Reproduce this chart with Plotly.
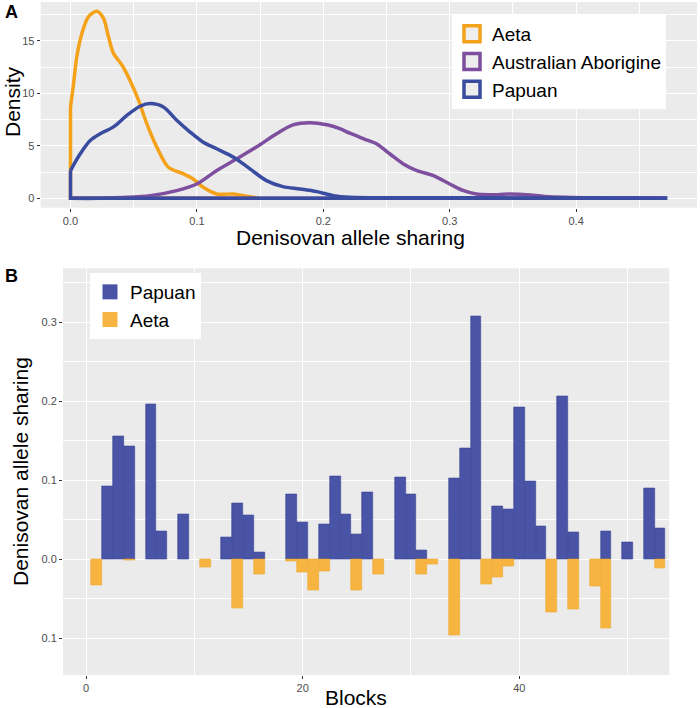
import plotly.graph_objects as go

# ---------------- Panel A data (density curves) ----------------
# each curve: value at x=0 boundary first, then along the curve to its right end
aeta_x = [0, 0.0024, 0.005, 0.009, 0.0143, 0.0209, 0.026, 0.030, 0.034, 0.0406, 0.047, 0.0538,
          0.0604, 0.0683, 0.0775, 0.0894, 0.097, 0.105, 0.1157, 0.129, 0.137, 0.1447, 0.15]
aeta_y = [8.7, 10.9, 13.5, 15.7, 17.3, 17.8, 17.15, 15.4, 13.8, 12.7, 11.25, 9.34,
          7.1, 4.88, 2.96, 2.33, 1.85, 1.05, 0.42, 0.42, 0.26, 0.1, 0.0]

aus_x = [0.0, 0.023, 0.04, 0.063, 0.084, 0.0999, 0.1157, 0.1315, 0.147, 0.163, 0.176, 0.1895,
         0.2027, 0.213, 0.221, 0.232, 0.242, 0.253, 0.263, 0.274, 0.287, 0.300, 0.311,
         0.321, 0.332, 0.348, 0.361, 0.375, 0.39, 0.406, 0.459, 0.472]
aus_y = [0.0, 0.0, 0.08, 0.26, 0.74, 1.37, 2.65, 3.76, 4.88, 6.15, 7.0, 7.2,
         7.0, 6.63, 6.2, 5.67, 5.2, 4.2, 3.3, 2.64, 2.17, 1.37, 0.73,
         0.41, 0.35, 0.41, 0.35, 0.19, 0.1, 0.06, 0.03, 0.0]

pap_x = [0, 0.0077, 0.0156, 0.0235, 0.034, 0.0446, 0.055, 0.063, 0.0735, 0.084, 0.0946, 0.105,
         0.1157, 0.129, 0.142, 0.155, 0.168, 0.1816, 0.195, 0.208, 0.221, 0.26, 0.33, 0.40, 0.472]
pap_y = [2.65, 4.24, 5.5, 6.15, 6.8, 7.9, 8.77, 9.02, 8.7, 7.43, 6.31, 5.35,
         4.72, 3.92, 2.81, 1.69, 1.12, 0.9, 0.64, 0.26, 0.1, 0.06, 0.05, 0.03, 0.0]

density_names = ["Aeta", "Australian Aborigine", "Papuan"]
density_colors = ["#F5A21B", "#7E4F9F", "#3A4CA0"]

# ---------------- Panel B data (bars per block) ----------------
blocks = list(range(1, 54))
papuan_vals = [0, 0.092, 0.155, 0.143, 0, 0.196, 0.035, 0, 0.056, 0,
               0, 0, 0.028, 0.070, 0.055, 0.009, 0, 0, 0.082, 0.047,
               0, 0.044, 0.105, 0.057, 0.031, 0.084, 0, 0, 0.103, 0.082,
               0.011, 0, 0, 0.102, 0.140, 0.307, 0, 0.067, 0.063, 0.192,
               0.098, 0.041, 0, 0.206, 0.034, 0, 0, 0.035, 0, 0.021,
               0, 0.090, 0.039]
aeta_vals = [0.033, 0, 0, 0.001, 0, 0, 0, 0, 0, 0,
             0.011, 0, 0, 0.062, 0, 0.019, 0, 0, 0.003, 0.017,
             0.039, 0.016, 0, 0, 0.040, 0, 0.019, 0, 0, 0,
             0.019, 0.007, 0, 0.096, 0, 0, 0.032, 0.023, 0.009, 0,
             0, 0, 0.067, 0, 0.064, 0, 0.034, 0.088, 0, 0,
             0, 0, 0.012]

b_yticks = [-0.1, 0.0, 0.1, 0.2, 0.3]
b_yticktext = ["0.1", "0.0", "0.1", "0.2", "0.3"]
b_xticks = [0, 20, 40]

FONT = "Liberation Sans, Arial, sans-serif"
PANEL_BG = "#EBEBEB"
TICKC = "#4D4D4D"
LW = 3.5

fig = go.Figure()

# Panel A curves: boundary segments (straight) + smooth curve
for xs, ys, name, col in zip([aeta_x, aus_x, pap_x], [aeta_y, aus_y, pap_y], density_names, density_colors):
    fig.add_trace(go.Scatter(x=[xs[-1], xs[0], xs[0]], y=[0, 0, ys[0]], mode="lines", showlegend=False,
                             line=dict(color=col, width=LW), xaxis="x", yaxis="y", hoverinfo="skip"))
    fig.add_trace(go.Scatter(x=xs, y=ys, mode="lines", name=name, showlegend=False,
                             line=dict(color=col, width=LW, shape="spline", smoothing=0.9),
                             xaxis="x", yaxis="y", hoverinfo="skip"))
# Panel A legend entries (outlined boxes)
for name, col in zip(density_names, density_colors):
    fig.add_trace(go.Scatter(x=[None], y=[None], name=name, legend="legend", mode="markers",
                             marker=dict(symbol="square", size=16, color="#EEEEEE",
                                         line=dict(color=col, width=3.5)),
                             xaxis="x", yaxis="y"))

# Panel B bars
pap_plot = [v if v else None for v in papuan_vals]
aeta_plot = [-v if v else None for v in aeta_vals]
fig.add_trace(go.Bar(x=blocks, y=pap_plot, name="Papuan", showlegend=False, width=1,
                     marker=dict(color="#4A54A6", line=dict(color="#3B4594", width=0.6)),
                     xaxis="x2", yaxis="y2"))
fig.add_trace(go.Bar(x=blocks, y=aeta_plot, name="Aeta", showlegend=False, width=1,
                     marker=dict(color="#F8B440", line=dict(color="#EDA935", width=0.6)),
                     xaxis="x2", yaxis="y2"))
for name, col in [("Papuan", "#4A54A6"), ("Aeta", "#F8B440")]:
    fig.add_trace(go.Scatter(x=[None], y=[None], name=name, legend="legend2", mode="markers",
                             marker=dict(symbol="square", size=15, color=col, line=dict(width=0)),
                             xaxis="x2", yaxis="y2"))

grid = dict(showgrid=True, gridcolor="white", gridwidth=1.3, zeroline=False,
            ticks="outside", ticklen=3, tickcolor="#333333", tickwidth=1,
            tickfont=dict(family=FONT, size=11, color=TICKC), showline=False)

fig.update_layout(
    width=700, height=708, margin=dict(l=0, r=0, t=0, b=0),
    paper_bgcolor="white", plot_bgcolor=PANEL_BG, barmode="overlay", bargap=0,
    font=dict(family=FONT, color="black"),
    xaxis=dict(domain=[0.0581, 0.9957], range=[-0.0236, 0.4956], tickmode="linear", tick0=0, dtick=0.1,
               tickformat=".1f", anchor="y",
               minor=dict(dtick=0.05, tick0=0, showgrid=True, gridcolor="white", gridwidth=0.6, ticks=""),
               **grid),
    yaxis=dict(domain=[0.7066, 0.9972], range=[-0.89, 18.69], tickmode="linear", tick0=0, dtick=5,
               anchor="x",
               minor=dict(dtick=2.5, tick0=0, showgrid=True, gridcolor="white", gridwidth=0.6, ticks=""),
               **grid),
    xaxis2=dict(domain=[0.09, 0.9561], range=[-2.13, 53.85], tickvals=b_xticks, anchor="y2",
                minor=dict(tickvals=[10, 30, 50], showgrid=True, gridcolor="white", gridwidth=0.6, ticks=""),
                **grid),
    yaxis2=dict(domain=[0.0466, 0.621], range=[-0.1468, 0.368], tickvals=b_yticks, ticktext=b_yticktext,
                anchor="x2",
                minor=dict(tickvals=[-0.05, 0.05, 0.15, 0.25, 0.35], showgrid=True, gridcolor="white",
                           gridwidth=0.6, ticks=""),
                **grid),
    legend=dict(x=452/700, y=1-15/708, xanchor="left", yanchor="top", bgcolor="white",
                font=dict(family=FONT, size=19, color="black"), tracegroupgap=0,
                itemwidth=30, traceorder="normal"),
    legend2=dict(x=90/700, y=1-273/708, xanchor="left", yanchor="top", bgcolor="white",
                 font=dict(family=FONT, size=19, color="black"), traceorder="normal",
                 itemwidth=30),
    annotations=[
        dict(text="<b>A</b>", x=3/700, y=1-12/708, xref="paper", yref="paper", showarrow=False,
             xanchor="left", yanchor="middle", font=dict(family=FONT, size=18)),
        dict(text="<b>B</b>", x=3/700, y=1-276/708, xref="paper", yref="paper", showarrow=False,
             xanchor="left", yanchor="middle", font=dict(family=FONT, size=18)),
        dict(text="Density", x=12/700, y=1-102/708, xref="paper", yref="paper", showarrow=False,
             textangle=-90, xanchor="center", yanchor="middle", font=dict(family=FONT, size=21)),
        dict(text="Denisovan allele sharing", x=350/700, y=1-237/708, xref="paper", yref="paper",
             showarrow=False, xanchor="center", yanchor="middle", font=dict(family=FONT, size=21)),
        dict(text="Denisovan allele sharing", x=20/700, y=1-472/708, xref="paper", yref="paper",
             showarrow=False, textangle=-90, xanchor="center", yanchor="middle",
             font=dict(family=FONT, size=21)),
        dict(text="Blocks", x=356/700, y=1-697/708, xref="paper", yref="paper", showarrow=False,
             xanchor="center", yanchor="middle", font=dict(family=FONT, size=21)),
    ],
)

fig.write_html("out.html", config={"displayModeBar": False},
               post_script="document.body.style.margin='0';document.body.style.overflow='hidden';")
